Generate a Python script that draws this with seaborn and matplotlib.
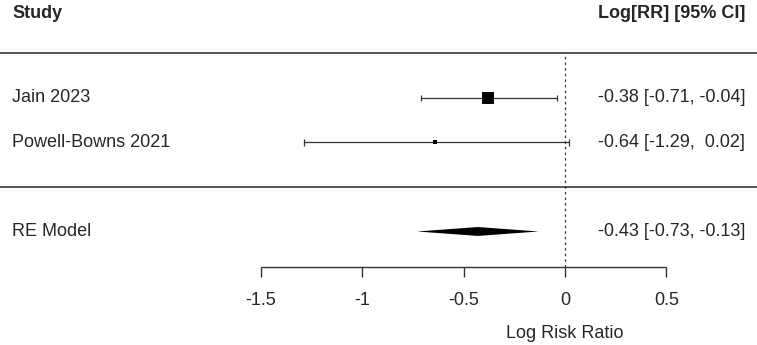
import numpy as np
import pandas as pd
import matplotlib
matplotlib.use("Agg")
import matplotlib.pyplot as plt
import seaborn as sns

# study data
studies = ["Jain 2023", "Powell-Bowns 2021"]
yi = [-0.38, -0.64]
ci_lb = [-0.71, -1.29]
ci_ub = [-0.04, 0.02]
marker_px = [12, 4]

# pooled estimate
re_label = "RE Model"
re_est = -0.43
re_lb = -0.73
re_ub = -0.13

xticks = [-1.5, -1, -0.5, 0, 0.5]
xtick_labels = ["-1.5", "-1", "-0.5", "0", "0.5"]

sns.set_style("white")
plt.rcParams["font.family"] = ["Liberation Sans", "DejaVu Sans"]

rows = [2, 1]
re_row = -1
axis_y = -1.79
df = pd.DataFrame({"study": studies, "yi": yi, "lb": ci_lb, "ub": ci_ub, "row": rows})

fig = plt.figure(figsize=(7.57, 3.45), dpi=100)
ax = fig.add_axes([0, 0, 1, 1])
ax.set_xlim(-2.788, 0.947)
ax.set_ylim(-3.551, 4.202)
ax.axis("off")

line_col = "#555555"
fs = 13

# horizontal separators
ax.axhline(3, color=line_col, lw=1.4)
ax.axhline(0, color=line_col, lw=1.4)

# reference line
ax.vlines(0, axis_y, 3, color="#333333", lw=0.9, linestyles=(0, (2, 2.5)))

# confidence intervals
ax.hlines(df["row"], df["lb"], df["ub"], color="#333333", lw=0.9)
ax.vlines(df["lb"], df["row"] - 0.07, df["row"] + 0.07, color="#333333", lw=0.9)
ax.vlines(df["ub"], df["row"] - 0.07, df["row"] + 0.07, color="#333333", lw=0.9)

# study points, size by weight
sizes = [(p * 0.72) ** 2 for p in marker_px]
sns.scatterplot(data=df, x="yi", y="row", marker="s", color="black",
                s=sizes, linewidth=0, legend=False, ax=ax, zorder=3)

# summary diamond
h = 0.1
ax.fill([re_lb, re_est, re_ub, re_est], [re_row, re_row + h, re_row, re_row - h],
        color="black", lw=0)

# text columns
x_left = -2.788 + 12 / 202.7
x_right = 0.947 - 12 / 202.7
ax.text(x_left, 3.9, "Study", fontsize=fs, fontweight="bold", va="center", ha="left")
ax.text(x_right, 3.9, "Log[RR] [95% CI]", fontsize=fs, fontweight="bold", va="center", ha="right")
for s, r, e, l, u in zip(studies, rows, yi, ci_lb, ci_ub):
    ax.text(x_left, r, s, fontsize=fs, va="center", ha="left")
    ax.text(x_right, r, f"{e:5.2f} [{l:5.2f}, {u:5.2f}]", fontsize=fs, va="center", ha="right")
ax.text(x_left, re_row, re_label, fontsize=fs, va="center", ha="left")
ax.text(x_right, re_row, f"{re_est:5.2f} [{re_lb:5.2f}, {re_ub:5.2f}]", fontsize=fs,
        va="center", ha="right")

# x axis drawn by hand
ax.hlines(axis_y, xticks[0], xticks[-1], color="#333333", lw=1.0)
for t, lab in zip(xticks, xtick_labels):
    ax.vlines(t, axis_y - 0.23, axis_y, color="#333333", lw=1.0)
    ax.text(t, -2.56, lab, fontsize=fs, ha="center", va="center")
ax.text(0, -3.3, "Log Risk Ratio", fontsize=fs, ha="center", va="center")

fig.savefig("out.png", dpi=100)
